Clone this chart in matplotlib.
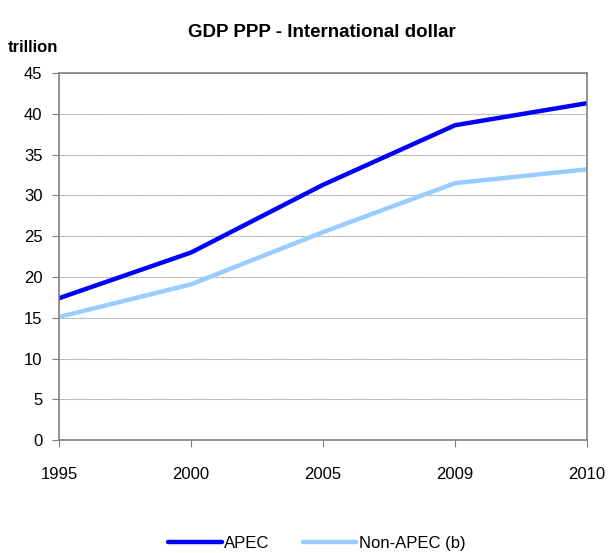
import numpy as np
import matplotlib.pyplot as plt

plt.rcParams['font.family'] = ['Liberation Sans', 'DejaVu Sans']

# categories on the x axis (equally spaced, Excel-style)
years = ['1995', '2000', '2005', '2009', '2010']
apec = [17.4, 23.0, 31.3, 38.6, 41.3]
non_apec = [15.1, 19.1, 25.5, 31.5, 33.2]

fig = plt.figure(figsize=(6.09, 5.53), dpi=100)
ax = fig.add_axes([0.097, 0.204, 0.867, 0.664])

x = np.arange(len(years))
ax.plot(x, apec, color='#0000ff', lw=3.2, label='APEC', solid_capstyle='round')
ax.plot(x, non_apec, color='#99ccff', lw=3.2, label='Non-APEC (b)', solid_capstyle='round')

ax.set_xlim(0, len(years) - 1)
ax.set_ylim(0, 45)
ax.set_yticks(np.arange(0, 46, 5))
ax.set_xticks(x)
ax.set_xticklabels(years)
ax.tick_params(axis='both', labelsize=12, color='#808080', length=5, direction='out')
ax.tick_params(axis='x', pad=14)
ax.tick_params(axis='y', pad=7)

ax.grid(axis='y', color='#a0a0a0', lw=0.8, ls=(0, (1, 0.5)))
ax.set_axisbelow(True)
for s in ['left', 'bottom', 'right', 'top']:
    ax.spines[s].set_color('#808080')
    ax.spines[s].set_linewidth(1.2)

fig.text(0.528, 0.942, 'GDP PPP - International dollar', ha='center', va='center',
         fontsize=13.5, fontweight='bold')
fig.text(0.013, 0.915, 'trillion', ha='left', va='center', fontsize=12, fontweight='bold')

fig.legend(loc='center', bbox_to_anchor=(0.52, 0.018), ncol=2, frameon=False,
           fontsize=12, handlelength=3.2, handletextpad=0.15, columnspacing=2.0)

plt.savefig('out.png', dpi=100)
